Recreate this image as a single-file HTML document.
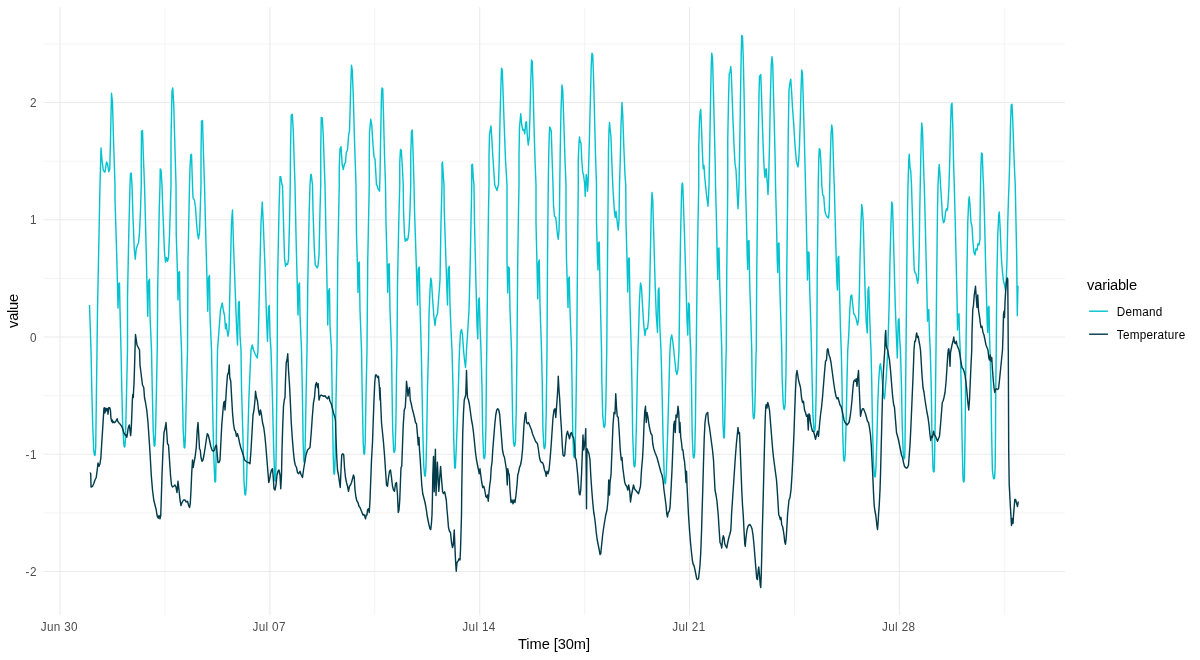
<!DOCTYPE html><html><head><meta charset="utf-8"><title>chart</title><style>html,body{margin:0;padding:0;background:#fff}svg{display:block;will-change:transform}text{font-family:"Liberation Sans",sans-serif}</style></head><body>
<svg width="1200" height="660" viewBox="0 0 1200 660">
<rect width="1200" height="660" fill="#fff"/>
<g stroke="#EBEBEB" fill="none">
<line x1="43.6" x2="1065.0" y1="43.95" y2="43.95" stroke-width="0.53"/>
<line x1="43.6" x2="1065.0" y1="161.2" y2="161.2" stroke-width="0.53"/>
<line x1="43.6" x2="1065.0" y1="278.45" y2="278.45" stroke-width="0.53"/>
<line x1="43.6" x2="1065.0" y1="395.7" y2="395.7" stroke-width="0.53"/>
<line x1="43.6" x2="1065.0" y1="512.95" y2="512.95" stroke-width="0.53"/>
<line x1="164.93" x2="164.93" y1="7.3" y2="615.0" stroke-width="0.53"/>
<line x1="374.78" x2="374.78" y1="7.3" y2="615.0" stroke-width="0.53"/>
<line x1="584.63" x2="584.63" y1="7.3" y2="615.0" stroke-width="0.53"/>
<line x1="794.48" x2="794.48" y1="7.3" y2="615.0" stroke-width="0.53"/>
<line x1="1004.33" x2="1004.33" y1="7.3" y2="615.0" stroke-width="0.53"/>
<line x1="43.6" x2="1065.0" y1="102.55" y2="102.55" stroke-width="1.07"/>
<line x1="43.6" x2="1065.0" y1="219.8" y2="219.8" stroke-width="1.07"/>
<line x1="43.6" x2="1065.0" y1="337.05" y2="337.05" stroke-width="1.07"/>
<line x1="43.6" x2="1065.0" y1="454.3" y2="454.3" stroke-width="1.07"/>
<line x1="43.6" x2="1065.0" y1="571.55" y2="571.55" stroke-width="1.07"/>
<line x1="60.0" x2="60.0" y1="7.3" y2="615.0" stroke-width="1.07"/>
<line x1="269.85" x2="269.85" y1="7.3" y2="615.0" stroke-width="1.07"/>
<line x1="479.7" x2="479.7" y1="7.3" y2="615.0" stroke-width="1.07"/>
<line x1="689.55" x2="689.55" y1="7.3" y2="615.0" stroke-width="1.07"/>
<line x1="899.4" x2="899.4" y1="7.3" y2="615.0" stroke-width="1.07"/>
</g>
<polyline points="89.50,305.00 91.00,350.00 91.00,350.00 91.75,387.50 92.70,425.00 93.70,450.00 94.37,454.60 94.75,455.50 95.13,454.60 95.70,447.50 96.17,412.50 97.00,350.00 97.00,350.00 97.50,310.00 98.75,247.50 100.00,185.00 100.00,185.00 101.00,148.00 102.00,160.00 103.25,170.00 104.25,171.75 105.00,172.00 106.50,162.00 107.50,163.75 108.75,171.75 109.75,169.25 110.50,140.00 111.50,93.25 112.50,102.50 113.50,140.00 115.00,185.00 115.00,185.00 115.00,200.00 116.50,247.50 117.50,285.00 118.00,308.00 118.75,283.75 119.50,283.00 120.00,310.00 121.00,350.00 121.00,350.00 121.74,387.50 122.70,425.00 123.83,443.75 124.12,446.10 124.50,447.00 124.88,446.10 125.45,440.00 126.38,400.00 127.50,350.00 127.50,350.00 127.50,297.50 128.75,235.00 130.00,185.00 130.00,185.00 130.50,173.25 131.25,173.25 132.00,185.00 132.00,185.00 133.00,217.50 134.25,248.75 135.25,259.25 136.25,248.75 137.50,245.00 138.50,243.00 139.50,232.50 140.50,210.00 141.25,185.00 141.25,185.00 141.25,160.00 141.50,131.25 142.50,130.50 143.50,160.00 144.50,185.00 144.50,185.00 145.50,222.50 147.00,285.00 147.75,316.25 148.50,281.25 149.50,279.25 150.00,315.00 151.50,350.00 151.50,350.00 152.23,387.50 153.20,430.00 154.12,445.35 154.50,446.25 154.88,445.35 155.45,435.00 156.34,395.00 157.25,350.00 157.25,350.00 157.75,285.00 159.25,210.00 160.00,185.00 160.00,185.00 160.25,169.00 161.00,170.00 162.00,185.00 162.00,185.00 163.00,215.00 164.50,252.50 165.50,262.00 166.50,257.50 167.50,261.25 168.50,257.50 169.50,235.00 171.00,185.00 171.00,185.00 171.00,140.00 172.00,91.25 172.75,88.00 173.75,105.00 175.00,150.00 176.00,185.00 176.00,185.00 176.25,235.00 177.50,273.75 178.00,300.00 178.75,272.50 179.50,271.75 180.00,310.00 181.50,350.00 181.50,350.00 182.25,387.50 183.20,430.00 184.12,447.10 184.50,448.00 184.88,447.10 185.45,435.00 186.32,395.00 187.50,350.00 187.50,350.00 188.00,260.00 189.50,185.00 189.50,185.00 190.00,167.50 190.75,155.00 191.50,154.25 192.50,185.00 192.50,185.00 193.00,197.50 194.50,200.50 195.50,207.50 196.50,222.50 197.50,233.75 198.50,238.75 199.50,232.50 200.25,210.00 201.00,185.00 201.00,185.00 201.00,155.00 201.50,121.25 202.50,120.50 203.50,155.00 204.50,185.00 204.50,185.00 205.75,235.00 207.00,280.00 207.75,311.25 208.50,277.50 209.50,275.50 210.00,315.00 211.50,350.00 211.50,350.00 212.50,400.00 213.70,455.00 214.87,481.10 215.25,482.00 215.63,481.10 216.20,450.00 216.75,400.00 217.50,350.00 217.50,350.00 219.00,330.00 220.50,310.00 222.25,303.00 223.50,311.25 224.50,315.00 225.50,328.75 226.25,323.75 227.00,330.00 228.00,336.25 229.00,330.00 230.00,285.00 231.50,222.50 232.50,210.00 233.50,245.00 235.00,285.00 236.50,325.00 237.50,345.00 238.50,302.50 239.25,301.50 240.00,335.00 241.00,350.00 241.00,350.00 241.50,387.50 242.96,437.50 243.95,480.00 244.87,494.10 245.25,495.00 245.63,494.10 246.45,485.00 247.60,445.00 249.00,395.00 251.00,350.00 251.00,350.00 252.25,345.00 253.50,350.00 253.50,350.00 255.00,353.75 256.25,356.25 257.25,358.00 258.00,350.00 258.00,350.00 259.50,285.00 261.00,222.50 262.25,202.00 263.25,222.50 265.00,267.50 266.50,317.50 267.50,341.25 268.50,307.50 269.25,305.50 270.00,335.00 271.00,350.00 271.00,350.00 272.50,400.00 273.70,450.00 274.87,480.35 275.25,481.25 275.63,480.35 276.20,450.00 276.75,400.00 277.25,350.00 277.25,350.00 277.50,285.00 279.00,210.00 279.75,185.00 279.75,185.00 280.00,176.75 280.75,176.75 282.00,185.00 282.50,185.00 283.50,222.50 284.50,257.50 285.50,266.25 286.50,263.75 287.50,264.50 288.50,260.00 289.50,222.50 290.25,185.00 290.25,185.00 290.50,150.00 291.25,115.00 292.25,114.25 293.25,130.00 294.25,162.50 295.00,185.00 295.00,185.00 296.00,235.00 297.25,285.00 298.00,315.00 298.75,285.00 299.50,283.00 300.00,315.00 301.50,350.00 301.50,350.00 302.50,400.00 303.20,445.00 303.87,461.60 304.25,462.50 304.63,461.60 305.20,445.00 306.00,400.00 307.00,350.00 307.00,350.00 307.75,285.00 309.25,210.00 310.00,185.00 310.00,185.00 310.75,175.00 311.25,174.25 312.50,185.00 312.50,185.00 313.00,210.00 314.25,247.50 315.25,265.00 316.25,266.25 317.00,268.00 318.00,266.25 319.00,255.00 320.00,210.00 320.75,185.00 320.75,185.00 320.75,150.00 321.25,117.50 322.25,118.00 323.25,135.00 324.25,165.00 325.00,185.00 325.00,185.00 326.00,235.00 327.25,295.00 327.75,325.00 328.50,291.25 329.50,288.75 330.00,325.00 331.50,350.00 331.50,350.00 332.25,400.00 333.20,455.00 333.87,473.35 334.25,474.25 334.63,473.35 335.20,455.00 336.00,400.00 337.00,350.00 337.00,350.00 337.75,260.00 339.25,185.00 339.25,185.00 339.25,167.50 340.00,148.75 341.00,146.75 342.25,165.00 343.25,169.50 344.50,163.75 345.50,162.50 346.25,152.50 347.50,150.00 348.75,133.75 349.50,131.25 350.25,105.00 350.75,85.00 351.50,65.25 352.25,70.00 353.25,95.00 354.50,140.00 356.00,185.00 356.00,185.00 356.50,235.00 357.50,267.50 358.00,292.50 358.75,263.00 359.25,262.00 360.00,310.00 361.50,350.00 361.50,350.00 362.24,395.00 363.20,442.50 363.87,453.35 364.25,454.25 364.63,453.35 365.20,442.50 366.01,395.00 367.00,350.00 367.00,350.00 367.75,260.00 369.25,185.00 369.25,185.00 369.25,160.00 369.50,132.50 370.75,119.25 371.75,125.00 373.00,145.00 374.00,157.00 375.00,158.75 376.50,185.00 377.00,185.00 378.00,188.75 379.50,191.25 380.00,175.00 380.75,132.50 381.50,95.00 382.00,88.00 382.75,88.75 383.50,115.00 384.50,155.00 385.50,185.00 385.50,185.00 386.00,222.50 387.00,260.00 387.75,292.50 388.50,264.50 389.25,263.75 390.00,310.00 391.50,350.00 391.50,350.00 392.00,387.50 392.70,430.00 393.64,450.00 393.87,451.60 394.25,452.50 394.63,451.60 395.14,448.75 395.95,420.00 396.50,375.00 397.00,350.00 397.00,350.00 397.50,285.00 398.75,222.50 399.75,185.00 399.75,185.00 399.75,162.50 400.50,149.50 401.25,150.00 402.25,165.00 403.25,185.00 403.25,185.00 403.50,210.00 404.50,235.00 405.25,241.25 406.25,238.75 407.00,240.50 408.00,238.75 409.00,230.00 410.00,210.00 410.75,185.00 410.75,185.00 410.75,155.00 411.50,131.25 412.25,130.00 413.00,150.00 414.00,185.00 414.00,185.00 414.50,210.00 415.75,247.50 416.75,280.00 417.50,305.00 418.25,268.75 419.25,267.00 420.00,305.00 421.25,350.00 421.25,350.00 422.00,387.50 422.79,430.00 423.70,465.00 424.62,475.35 425.00,476.25 425.38,475.35 425.95,467.50 426.70,437.50 427.50,387.50 428.50,350.00 428.50,350.00 429.00,315.00 430.00,290.00 430.75,278.25 431.50,281.25 432.50,297.50 433.75,315.00 435.00,325.50 436.00,317.50 437.50,313.75 438.75,297.50 440.00,280.00 441.00,222.50 442.00,185.00 442.00,185.00 442.00,163.75 442.50,162.00 443.25,175.00 444.00,185.00 444.00,185.00 444.25,210.00 445.50,247.50 446.75,285.00 447.50,305.00 448.25,268.75 449.25,266.25 450.00,305.00 451.25,335.00 452.00,350.00 452.00,350.00 453.00,387.50 453.70,437.50 454.62,467.35 455.00,468.25 455.38,467.35 456.20,450.00 457.17,425.00 458.00,400.00 459.00,365.00 459.50,350.00 459.50,350.00 460.50,332.50 461.50,329.50 462.50,335.00 463.50,350.00 463.50,350.00 464.25,357.50 465.00,363.75 465.50,367.50 466.00,360.00 466.50,350.00 466.50,350.00 467.50,335.00 469.00,310.00 470.00,272.50 471.00,222.50 471.75,185.00 471.75,185.00 471.75,165.00 472.50,164.25 473.25,177.50 474.00,185.00 474.00,185.00 474.50,222.50 476.00,285.00 477.00,325.00 477.75,338.75 478.50,300.00 479.25,298.00 480.00,325.00 481.00,350.00 481.00,350.00 482.00,387.50 482.70,432.50 483.54,455.00 483.87,457.85 484.25,458.75 484.63,457.85 485.20,453.75 485.95,425.00 486.50,365.00 486.75,350.00 486.75,350.00 487.50,285.00 488.50,210.00 489.00,185.00 489.00,185.00 489.00,155.00 489.50,135.00 490.25,130.00 491.00,126.00 491.75,137.50 492.75,155.00 493.75,170.00 494.75,185.00 494.75,185.00 495.75,187.50 497.00,190.50 498.00,186.25 498.50,185.00 498.50,185.00 499.25,160.00 500.00,120.00 501.00,82.50 501.50,68.25 502.25,70.00 503.00,90.00 504.00,120.00 505.50,160.00 507.00,185.00 507.00,185.00 507.00,210.00 507.00,260.00 507.75,293.00 508.50,267.00 509.25,268.00 510.00,310.00 511.50,350.00 511.50,350.00 512.00,382.50 512.70,422.50 513.54,442.50 514.12,445.35 514.50,446.25 514.88,445.35 515.45,441.25 516.20,412.50 516.75,370.00 517.00,350.00 517.00,350.00 517.75,260.00 518.50,210.00 519.00,185.00 519.00,185.00 519.00,155.00 519.50,127.50 520.75,113.75 521.75,125.00 522.75,130.00 523.75,129.50 524.75,133.75 525.75,122.50 526.50,121.75 527.25,135.00 528.25,145.00 529.25,137.50 530.00,115.00 530.75,82.50 531.50,60.00 532.25,61.25 533.00,85.00 534.00,125.00 535.00,160.00 536.00,185.00 536.00,185.00 536.00,222.50 537.00,265.00 537.75,298.75 538.50,262.50 539.25,260.00 540.00,305.00 541.50,350.00 541.50,350.00 542.25,382.50 542.95,430.00 543.89,446.25 544.12,447.85 544.50,448.75 544.88,447.85 545.45,443.75 546.20,412.50 546.75,370.00 547.00,350.00 547.00,350.00 547.50,260.00 548.25,185.00 548.25,185.00 548.75,155.00 549.25,135.00 549.75,127.00 550.50,128.75 551.25,131.25 552.00,155.00 553.00,185.00 553.00,185.00 553.50,205.00 554.50,216.25 555.75,217.50 556.75,227.50 557.50,235.00 558.25,239.25 559.00,231.25 559.50,210.00 559.75,185.00 559.75,185.00 560.25,150.00 561.00,110.00 562.00,85.00 562.75,90.00 563.75,120.00 565.00,160.00 566.00,185.00 566.00,185.00 566.00,222.50 566.50,260.00 567.50,290.00 568.00,307.50 568.50,278.75 569.25,277.00 570.00,310.00 571.50,350.00 571.50,350.00 572.00,382.50 572.70,430.00 573.54,453.75 573.87,456.60 574.25,457.50 574.63,456.60 575.20,450.00 575.90,412.50 576.50,370.00 576.75,350.00 576.75,350.00 577.50,260.00 578.25,185.00 578.25,185.00 578.25,160.00 579.00,142.50 579.50,137.00 580.25,142.00 581.00,143.00 581.75,160.00 582.75,172.50 583.50,175.00 584.50,182.50 584.75,185.00 584.75,185.00 585.25,196.25 585.75,185.00 585.75,185.00 586.25,174.50 587.00,180.00 587.25,185.00 587.25,185.00 587.50,191.25 588.00,185.00 588.00,185.00 588.50,170.00 589.25,145.00 590.25,105.00 591.25,65.00 592.00,53.25 592.75,55.00 593.50,75.00 594.50,115.00 595.50,155.00 596.50,185.00 596.50,185.00 596.50,222.50 597.50,260.00 598.00,270.00 598.50,243.00 599.25,242.00 600.00,285.00 601.50,350.00 601.50,350.00 601.81,380.00 602.70,415.00 603.73,426.25 603.87,426.60 604.25,427.50 604.63,426.60 605.14,423.75 605.95,400.00 606.50,365.00 606.75,350.00 606.75,350.00 607.50,260.00 608.25,185.00 608.25,185.00 608.50,150.00 609.00,130.00 609.50,122.50 610.25,130.00 611.00,137.50 611.75,160.00 612.75,185.00 612.75,185.00 613.50,197.50 614.50,212.50 615.25,217.50 616.00,211.25 616.75,217.50 617.50,225.00 618.25,230.00 619.00,220.00 619.50,185.00 619.50,185.00 620.25,160.00 621.00,125.00 622.00,102.50 622.75,115.00 623.75,145.00 625.00,175.00 625.75,185.00 625.75,185.00 626.00,222.50 627.00,260.00 627.75,292.00 628.50,258.75 629.25,258.00 630.00,305.00 631.25,350.00 631.25,350.00 632.00,387.50 632.70,435.00 633.74,462.50 634.12,466.10 634.50,467.00 634.88,466.10 635.45,460.00 636.43,425.00 637.25,380.00 638.00,350.00 638.00,350.00 638.75,325.00 639.50,300.00 640.50,283.00 641.50,287.50 642.50,305.00 643.75,325.00 645.00,335.50 646.00,328.75 647.50,328.75 648.50,320.00 649.50,295.00 650.50,247.50 651.25,210.00 652.00,192.50 652.75,200.00 653.75,235.00 655.00,280.00 656.25,315.00 657.50,332.50 658.25,290.00 659.00,288.00 659.75,325.00 661.00,350.00 661.00,350.00 662.00,387.50 663.04,437.50 664.20,475.00 664.87,482.85 665.25,483.75 665.63,482.85 666.45,470.00 667.61,435.00 668.75,395.00 669.50,365.00 670.00,350.00 670.00,350.00 670.75,338.75 671.75,335.00 672.75,341.25 673.75,350.00 673.75,350.00 674.75,360.00 676.00,371.25 677.00,374.50 678.00,368.75 679.00,350.00 679.00,350.00 679.50,310.00 680.00,271.25 680.00,270.00 680.75,227.50 681.50,195.00 682.00,185.00 682.00,185.00 682.25,183.00 682.75,185.00 682.75,185.00 683.50,205.00 684.50,235.00 686.00,285.00 687.00,320.00 687.75,335.00 688.50,303.00 689.25,304.50 690.00,335.00 690.75,350.00 690.75,350.00 691.50,387.50 692.20,435.00 693.10,455.00 693.37,457.10 693.75,458.00 694.13,457.10 694.70,452.50 695.45,420.00 696.00,365.00 696.25,350.00 696.25,350.00 697.00,285.00 698.00,222.50 698.75,185.00 698.75,185.00 698.75,145.00 699.50,120.00 700.25,111.25 700.75,109.50 701.50,127.50 702.50,155.00 703.25,168.75 704.00,165.50 704.75,177.50 705.50,185.00 705.50,185.00 706.25,192.50 707.00,198.75 708.00,206.25 708.50,197.50 709.00,185.00 709.00,185.00 709.75,145.00 710.50,102.50 711.25,65.00 711.75,53.25 712.50,57.50 713.25,85.00 714.25,125.00 715.25,165.00 715.50,185.00 715.50,185.00 716.50,222.50 717.25,260.00 717.75,279.50 718.25,248.75 719.00,248.00 719.75,285.00 721.00,325.00 721.75,350.00 721.75,350.00 722.36,387.50 722.95,422.50 723.62,437.10 724.00,438.00 724.38,437.10 724.70,425.00 725.37,390.00 726.00,357.50 726.25,350.00 726.25,350.00 726.75,272.50 727.50,210.00 727.75,185.00 727.75,185.00 727.75,140.00 728.50,100.00 729.25,73.75 730.00,72.50 730.75,66.50 731.25,72.50 732.00,92.50 733.00,120.00 734.00,145.00 735.00,163.75 736.00,170.00 736.75,185.00 736.75,185.00 737.50,200.00 738.00,208.75 738.50,200.00 739.00,185.00 739.00,185.00 739.75,145.00 740.50,95.00 741.25,52.50 741.75,35.50 742.50,36.25 743.25,57.50 744.25,102.50 745.00,155.00 745.50,185.00 745.50,185.00 746.50,222.50 747.25,257.50 747.75,269.50 748.25,241.25 749.00,240.50 749.75,285.00 751.00,325.00 751.75,350.00 751.75,350.00 752.20,387.50 752.95,412.50 753.37,417.85 753.75,418.75 754.13,417.85 754.70,412.50 755.45,385.00 756.00,355.00 756.25,350.00 756.25,350.00 756.75,272.50 757.50,210.00 757.75,185.00 757.75,185.00 758.25,140.00 759.00,95.00 759.50,76.25 760.25,75.50 760.75,74.50 761.50,95.00 762.50,127.50 763.50,155.00 764.25,170.00 765.00,177.50 765.75,169.50 766.25,168.75 767.00,180.00 767.50,185.00 767.50,185.00 768.00,194.50 768.50,185.00 768.50,185.00 769.50,145.00 770.25,102.50 771.25,65.00 772.00,56.75 772.75,65.00 773.50,95.00 774.50,132.50 775.25,165.00 775.50,185.00 775.50,185.00 776.50,222.50 777.25,260.00 777.75,272.50 778.25,243.75 779.00,243.00 779.75,285.00 781.00,325.00 781.74,350.00 781.74,350.00 782.20,380.00 783.20,403.75 783.87,408.60 784.25,409.50 784.63,408.60 785.20,403.75 785.95,375.00 786.25,350.00 786.25,350.00 786.75,272.50 787.50,210.00 787.75,185.00 787.75,185.00 788.25,132.50 789.00,90.00 790.00,82.50 790.75,79.25 791.50,90.00 792.50,107.50 793.75,125.00 795.00,145.00 796.25,160.00 797.25,165.00 798.00,167.00 798.75,160.00 799.50,145.00 800.25,120.00 801.00,90.00 801.75,70.00 802.50,73.75 803.25,100.00 804.25,135.00 805.00,165.00 805.50,185.00 805.50,185.00 806.25,217.50 807.00,255.00 807.50,280.00 808.25,252.00 809.00,252.50 809.75,290.00 811.00,330.00 811.50,350.00 811.50,350.00 812.12,380.00 812.95,415.00 813.89,428.75 814.12,430.35 814.50,431.25 814.88,430.35 815.45,425.00 816.19,390.00 816.75,350.00 816.75,350.00 817.25,272.50 818.00,210.00 818.25,185.00 818.25,185.00 818.75,160.00 819.25,148.75 820.00,149.50 820.75,160.00 821.50,175.00 821.75,185.00 821.75,185.00 822.75,195.00 823.75,196.25 824.75,210.00 825.75,214.50 826.75,216.25 827.75,217.50 828.50,218.00 829.25,210.00 829.75,185.00 829.75,185.00 830.25,160.00 831.00,135.00 831.75,125.00 832.50,130.00 833.25,155.00 834.00,180.00 834.25,185.00 834.25,185.00 835.25,222.50 836.25,260.00 837.00,283.75 837.50,290.00 838.00,257.50 838.75,256.25 839.50,290.00 840.50,330.00 841.25,350.00 841.25,350.00 842.00,382.50 842.70,432.50 843.54,457.50 843.87,460.35 844.25,461.25 844.63,460.35 845.20,455.00 846.19,420.00 847.00,380.00 847.75,350.00 847.75,350.00 848.75,335.00 849.75,310.00 850.75,296.25 851.75,295.00 852.75,305.00 853.75,313.75 854.75,315.00 855.75,317.50 856.75,321.25 857.50,325.00 858.50,320.00 859.25,297.50 860.00,260.00 861.00,222.50 861.75,204.50 862.50,210.00 863.25,222.50 864.25,260.00 865.25,297.50 866.25,322.50 867.25,333.00 868.00,290.00 868.75,287.00 869.50,310.00 870.50,340.00 871.00,350.00 871.00,350.00 871.75,382.50 872.55,430.00 873.45,462.50 874.42,475.00 874.62,476.10 875.00,477.00 875.38,476.10 875.95,467.50 876.95,437.50 877.75,405.00 878.75,380.00 879.75,366.25 880.50,363.75 881.25,370.00 882.25,380.00 883.25,392.50 884.00,397.50 884.50,398.75 885.25,390.00 886.25,377.50 887.25,360.00 887.75,350.00 887.75,350.00 889.00,310.00 890.00,260.00 891.00,222.50 891.75,202.00 892.50,205.00 893.25,230.00 894.25,267.50 895.25,305.00 896.25,332.50 896.75,345.00 897.00,350.00 897.00,350.00 897.25,358.00 897.50,350.00 897.50,350.00 898.25,320.00 899.00,318.75 899.75,340.00 900.50,350.00 900.50,350.00 901.50,387.50 902.20,425.00 903.20,452.50 903.87,457.85 904.25,458.75 904.63,457.85 904.95,450.00 905.51,400.00 906.00,350.00 906.00,350.00 906.75,272.50 907.50,210.00 908.00,185.00 908.00,185.00 908.75,160.00 909.25,154.25 910.00,167.50 910.75,171.25 911.50,185.00 911.50,185.00 912.25,210.00 913.25,242.50 914.25,270.00 915.00,272.50 916.00,273.75 917.00,280.00 917.75,283.25 918.50,277.50 919.25,247.50 919.75,210.00 920.25,185.00 920.25,185.00 920.75,160.00 921.25,135.00 921.75,123.00 922.50,130.00 923.25,155.00 924.00,180.00 924.25,185.00 924.25,185.00 925.25,222.50 926.25,265.00 927.00,297.50 927.50,321.25 928.00,311.25 928.75,309.50 929.50,335.00 930.25,350.00 930.25,350.00 931.25,387.50 931.95,435.00 932.99,467.50 933.37,471.10 933.75,472.00 934.13,471.10 934.42,467.50 935.13,425.00 935.75,370.00 936.00,350.00 936.00,350.00 936.75,272.50 937.50,210.00 938.00,185.00 938.00,185.00 938.75,170.00 939.25,164.50 940.00,175.00 940.50,185.00 940.50,185.00 941.50,200.00 942.50,217.50 943.50,222.50 944.50,221.25 945.50,212.50 946.50,208.75 947.50,210.00 948.25,200.00 949.00,185.00 949.00,185.00 949.75,160.00 950.50,127.50 951.25,105.00 952.00,103.25 952.75,125.00 953.50,160.00 954.25,185.00 954.25,185.00 955.25,222.50 956.25,265.00 957.00,297.50 957.50,330.00 958.25,315.00 959.00,313.75 959.50,335.00 960.25,350.00 960.25,350.00 961.25,387.50 962.02,437.50 962.99,477.50 963.37,481.10 963.75,482.00 964.13,481.10 964.42,477.50 965.11,432.50 965.75,370.00 966.00,350.00 966.00,350.00 966.75,285.00 967.75,222.50 968.75,200.00 969.25,196.75 970.00,205.00 971.00,222.50 972.00,226.25 973.00,242.50 974.00,252.50 975.00,255.00 976.00,248.75 977.00,250.00 978.00,243.75 979.00,245.00 980.00,238.75 980.00,222.50 980.50,185.00 980.50,185.00 981.00,165.00 981.50,153.00 982.25,153.75 983.00,175.00 983.50,185.00 983.50,185.00 984.50,217.50 985.50,260.00 986.50,297.50 987.25,325.00 987.75,332.50 988.25,307.50 989.00,306.25 989.50,335.00 990.00,350.00 990.00,350.00 991.00,387.50 991.59,432.50 992.40,470.00 993.37,477.85 993.75,478.75 994.13,477.85 994.13,477.85 994.25,478.75 994.63,477.85 995.15,467.50 995.53,432.50 995.75,387.50 996.25,350.00 996.25,350.00 996.75,285.00 997.75,235.00 998.75,215.00 999.25,212.00 1000.00,225.00 1000.75,242.50 1001.50,260.00 1002.50,272.50 1003.50,281.25 1004.50,285.00 1005.50,290.00 1006.25,280.00 1007.00,260.00 1007.75,222.50 1008.50,197.50 1009.00,185.00 1009.00,185.00 1009.75,160.00 1010.50,125.00 1011.25,105.00 1012.00,104.25 1012.75,120.00 1013.75,150.00 1014.75,175.00 1015.25,185.00 1015.25,185.00 1016.00,222.50 1016.75,260.00 1017.00,290.00 1017.30,315.75 1017.75,295.00 1018.00,285.75" fill="none" stroke="#04C3CF" stroke-width="1.42" stroke-linejoin="round" stroke-linecap="butt"/>
<polyline points="90.00,472.50 90.75,473.75 91.00,487.00 92.50,486.25 93.75,483.75 95.00,480.00 96.25,477.50 97.50,467.50 98.00,463.00 99.00,466.25 100.00,463.75 100.83,458.00 103.95,408.10 104.40,407.77 104.97,412.93 105.62,408.10 106.42,410.90 106.97,408.45 107.55,408.90 108.00,414.27 108.67,407.77 109.78,407.77 110.45,410.35 110.90,417.62 111.70,421.55 112.25,419.88 112.80,422.68 113.47,421.55 114.28,422.68 115.40,421.90 116.28,420.43 117.17,418.75 117.85,421.55 118.75,422.68 119.88,423.80 121.00,425.48 122.12,427.15 123.03,429.98 123.80,432.77 124.58,433.90 125.47,435.57 126.38,435.00 126.83,437.25 127.50,433.32 128.05,428.85 128.62,426.60 129.30,424.93 129.75,428.27 130.20,432.20 130.62,435.57 131.07,431.07 131.53,422.12 131.97,410.90 132.43,398.57 132.88,394.10 133.32,397.45 133.55,390.73 134.00,384.00 134.60,365.00 135.00,350.00 135.00,350.00 135.50,334.50 137.00,345.00 138.25,347.50 139.50,350.00 139.50,350.00 140.00,365.00 141.25,375.00 142.50,385.00 143.75,387.50 144.50,397.50 145.50,402.50 146.75,410.00 148.00,422.50 149.00,437.50 150.00,452.50 151.25,475.00 152.50,490.00 153.75,500.00 155.00,505.00 156.25,510.00 157.00,515.00 157.00,515.00 157.50,517.00 158.25,518.25 159.00,515.50 160.00,518.75 160.75,515.50 160.75,515.00 161.25,500.00 162.00,475.00 163.00,450.00 164.00,432.50 165.00,428.75 166.00,422.50 166.75,432.50 167.50,443.75 168.50,445.00 169.50,460.00 170.50,475.00 171.50,485.00 172.50,487.00 173.75,486.25 175.00,485.00 176.00,487.00 177.00,492.50 178.00,481.25 179.00,490.00 180.00,500.00 181.00,505.50 182.00,502.50 183.50,500.00 185.00,500.00 186.25,502.00 187.50,501.25 188.50,505.00 189.50,507.50 190.25,503.75 191.00,490.00 191.75,472.50 192.50,460.00 193.25,467.50 194.00,462.50 195.00,457.50 196.25,447.50 197.25,430.00 198.00,422.50 198.75,435.00 199.50,448.75 200.25,450.00 201.00,457.50 202.00,461.25 203.00,460.00 204.00,455.00 205.00,448.75 206.25,440.00 207.25,433.75 208.25,435.00 209.50,440.00 210.75,446.25 212.00,450.00 213.25,451.25 214.50,450.00 215.50,446.25 216.50,445.00 217.25,455.00 218.00,462.50 219.00,462.50 220.00,460.00 220.75,445.00 221.75,425.00 223.00,410.00 223.75,402.50 224.50,401.25 225.00,410.00 225.75,400.00 226.50,387.50 227.50,375.00 228.50,372.50 229.25,365.00 229.75,377.50 230.75,381.25 231.50,395.00 232.50,412.50 233.50,423.75 234.50,430.00 235.50,431.25 236.50,436.25 237.50,433.75 238.50,437.50 239.50,442.50 240.75,447.50 242.00,451.25 243.25,455.00 244.50,460.00 246.00,461.25 247.50,462.50 248.75,462.50 250.00,463.75 251.00,450.00 252.00,432.50 253.00,415.00 254.00,410.00 255.00,400.00 255.50,391.25 256.50,397.50 257.50,401.25 258.50,410.00 259.50,415.00 260.50,410.00 261.50,415.00 262.50,422.50 263.75,427.50 264.75,435.00 265.75,445.00 266.75,457.50 267.75,470.00 268.75,482.50 269.50,480.00 270.50,473.75 271.50,470.00 272.50,468.75 273.25,477.50 274.00,488.75 275.00,490.00 276.00,485.00 277.00,475.00 278.00,471.25 279.00,470.00 280.00,475.00 280.75,488.75 281.50,475.00 282.00,450.00 282.75,425.00 283.50,406.25 284.25,400.00 285.00,397.50 285.50,380.00 286.25,362.50 287.00,360.00 287.75,353.75 288.50,370.00 289.50,385.00 290.25,400.00 291.25,422.50 292.25,437.50 293.25,450.00 294.25,460.00 295.25,465.00 296.50,467.50 297.50,472.50 298.75,473.75 300.00,471.25 301.25,475.00 302.50,477.50 303.50,470.00 304.75,462.50 306.00,455.00 307.50,450.00 308.75,448.75 310.00,447.50 311.25,432.50 312.25,417.50 313.50,402.50 314.50,397.50 315.50,385.00 316.50,382.50 317.50,387.50 318.25,383.75 319.00,400.00 320.00,396.25 321.25,395.00 322.50,395.75 323.75,396.25 325.00,395.75 326.25,397.50 327.50,398.75 328.75,396.25 330.00,401.25 331.25,403.75 332.50,408.75 333.75,413.75 335.00,417.50 335.50,421.25 336.00,437.50 336.75,457.50 337.50,470.00 338.50,475.00 339.50,482.50 340.25,487.50 341.00,470.00 341.75,455.00 342.75,453.75 343.75,455.00 344.50,467.50 345.50,477.50 346.50,482.50 347.50,486.25 348.50,491.25 349.50,486.25 350.50,485.00 351.50,482.50 352.50,478.75 353.50,475.00 354.25,477.50 355.00,490.00 356.00,497.50 357.00,501.25 358.00,502.50 359.00,506.25 360.00,507.50 361.00,510.00 362.00,512.50 363.00,515.00 363.00,515.00 364.00,514.50 364.75,516.25 365.50,518.75 366.25,515.00 367.00,515.00 367.00,515.00 367.50,510.00 368.50,508.75 369.25,512.50 370.00,500.00 370.75,480.00 371.50,460.00 372.50,442.50 373.25,420.00 374.00,400.00 374.75,382.50 375.50,375.00 376.50,375.00 377.50,377.50 378.50,376.25 379.25,385.00 380.00,400.00 380.00,387.50 380.75,405.00 381.50,422.50 382.50,432.50 383.50,442.50 384.50,455.00 385.50,470.00 386.50,485.00 387.50,486.25 388.50,477.50 389.50,471.25 390.50,470.00 391.50,477.50 392.50,486.25 393.50,490.00 394.50,491.25 395.50,483.75 396.50,482.50 397.50,495.00 398.25,512.50 399.00,510.00 399.75,500.00 400.50,480.00 401.00,467.50 401.75,466.25 402.50,445.00 403.25,425.00 404.25,410.00 405.25,407.50 406.00,395.00 406.50,381.25 407.25,387.50 408.00,396.25 408.75,390.00 409.50,387.50 410.25,400.00 411.25,403.75 412.25,408.75 413.25,412.50 414.50,417.50 415.50,422.50 416.50,423.75 417.50,435.00 418.25,445.00 419.00,437.50 419.50,450.00 420.25,460.00 421.00,472.50 421.75,485.00 422.75,493.75 423.75,497.50 424.75,501.25 425.75,506.25 426.75,512.50 427.00,515.00 427.00,515.00 428.00,520.00 429.00,525.00 430.00,528.75 430.75,529.50 431.50,522.50 432.00,515.00 432.00,515.00 432.40,500.00 432.80,475.00 433.50,456.50 434.20,491.80 434.80,470.00 435.40,449.10 436.00,495.50 436.70,478.00 437.40,462.30 438.10,478.00 438.80,491.40 439.70,478.00 440.60,466.40 441.60,480.00 442.60,491.80 443.50,493.60 444.70,491.80 445.50,496.00 446.30,500.00 447.00,510.00 447.50,515.00 447.50,515.00 448.50,527.50 449.50,531.25 450.50,532.50 451.50,542.50 452.50,547.50 453.25,545.00 454.25,530.00 454.75,542.50 455.50,560.00 456.25,571.25 457.00,562.50 458.00,561.25 459.00,558.75 460.00,560.00 460.50,550.00 461.00,532.50 461.50,515.00 461.50,515.00 461.75,490.00 462.25,460.00 462.75,432.50 463.50,412.50 464.25,400.00 465.00,397.50 465.75,395.00 466.25,380.00 466.50,370.50 467.00,387.50 467.50,397.50 468.50,400.00 469.50,405.00 470.50,412.50 471.50,420.00 472.50,425.00 473.50,432.50 474.50,442.50 475.50,452.50 476.50,460.00 477.50,465.00 478.50,470.00 479.25,473.75 480.00,468.75 480.75,475.00 481.75,482.50 482.75,487.50 483.75,486.25 484.75,490.00 485.75,496.25 486.75,497.50 487.50,495.00 488.25,501.25 489.00,492.50 489.75,485.00 490.50,480.00 491.25,467.50 492.00,462.50 492.75,450.00 493.75,437.50 494.75,425.00 495.75,415.00 496.75,410.00 497.75,408.75 498.75,410.00 499.75,415.00 500.50,425.00 501.50,437.50 502.50,450.00 503.50,455.00 504.50,457.50 505.50,463.75 506.50,470.00 507.25,485.00 507.75,468.75 508.50,472.50 509.25,475.00 510.00,490.00 511.00,502.50 512.00,500.00 513.00,503.75 514.00,500.00 515.00,502.50 516.00,495.00 517.00,485.00 517.75,475.00 518.50,472.50 519.50,467.50 520.50,465.00 521.50,460.00 522.50,450.00 523.25,437.50 524.00,425.00 525.00,415.00 525.75,412.50 526.50,422.50 527.50,423.75 528.50,422.50 529.50,425.00 530.50,427.50 531.50,430.00 532.50,433.75 533.50,436.25 534.50,438.75 535.50,441.25 536.50,442.50 537.50,443.75 538.50,450.00 539.50,457.50 540.50,461.25 541.50,462.50 542.50,462.50 543.50,465.00 544.50,470.00 545.50,472.50 546.25,476.25 547.00,471.25 548.00,473.75 549.00,470.00 550.00,460.00 551.00,447.50 552.00,432.50 553.00,417.50 554.00,410.00 555.00,408.75 555.75,417.50 556.50,407.50 557.25,397.50 558.00,385.00 558.25,376.25 559.00,390.00 559.75,400.00 560.50,415.00 561.50,430.00 562.25,445.00 563.00,455.00 564.00,456.25 564.75,455.00 565.50,445.00 566.50,435.00 567.50,431.25 568.50,435.00 569.50,438.75 570.50,433.75 571.50,432.50 572.50,436.25 573.50,437.50 574.50,445.00 575.25,457.50 576.25,460.00 577.00,467.50 577.75,475.00 578.50,485.00 579.25,493.75 580.00,495.00 580.75,490.00 581.50,475.00 582.25,455.00 583.00,435.00 583.75,450.00 584.50,445.00 585.25,437.50 585.75,428.75 586.25,475.00 586.50,508.75 586.75,475.00 587.00,448.75 588.00,451.25 589.00,453.75 590.00,460.00 590.75,475.00 591.75,490.00 592.75,502.50 593.75,512.50 594.25,515.00 594.25,515.00 595.25,522.50 596.25,532.50 597.25,540.00 598.25,545.00 599.25,550.00 600.00,554.50 600.75,553.75 601.50,546.25 602.50,536.25 603.50,528.75 604.50,522.50 605.50,516.25 605.75,515.00 605.75,515.00 607.00,510.00 608.00,500.00 608.75,480.00 609.50,495.00 610.00,482.50 611.00,475.00 612.00,450.00 613.00,425.00 614.00,412.50 615.00,413.75 615.75,393.75 616.50,407.50 617.25,416.25 618.25,417.50 619.25,432.50 620.25,450.00 621.25,460.00 622.00,457.50 622.75,467.50 623.75,475.00 624.75,482.50 625.75,485.00 626.75,486.25 627.75,490.00 628.75,485.00 629.75,491.25 630.50,502.00 631.50,495.00 632.50,490.00 633.50,485.00 634.50,488.75 635.50,490.00 636.50,491.25 637.50,492.50 638.50,493.75 639.50,490.00 640.50,486.25 641.50,470.00 642.50,458.75 643.25,445.00 644.00,425.00 644.75,411.25 645.50,406.25 646.25,422.50 647.00,412.50 648.00,417.50 649.00,425.00 650.00,430.00 651.00,433.75 652.00,435.00 652.75,443.75 653.75,448.75 655.00,452.50 656.00,455.00 657.00,457.50 658.00,461.25 659.00,465.00 660.00,468.75 661.00,472.50 662.00,475.00 663.00,480.00 664.00,490.00 665.00,497.50 666.00,505.00 666.75,513.75 667.50,517.00 668.25,512.50 669.25,511.25 670.00,507.50 671.00,490.00 672.00,470.00 673.00,445.00 673.75,425.00 674.50,421.25 675.25,432.50 676.00,415.00 677.00,417.50 678.00,406.25 678.75,412.50 679.50,432.50 680.00,431.25 680.00,422.50 680.75,437.50 681.50,442.50 682.25,450.00 683.00,450.00 683.75,457.50 684.50,461.25 685.25,470.00 686.00,482.50 686.50,471.25 687.00,485.00 687.75,500.00 688.50,515.00 688.50,515.00 689.50,530.00 690.50,542.50 691.50,552.50 692.50,561.25 693.25,564.50 694.00,565.50 695.00,570.00 696.00,575.00 696.75,578.75 697.50,579.50 698.50,578.75 699.25,572.50 700.00,565.00 700.75,552.50 701.50,532.50 702.00,515.00 702.00,515.00 702.75,490.00 703.50,462.50 704.25,437.50 705.00,422.50 706.00,415.00 707.00,413.00 707.75,412.50 708.50,422.50 709.50,427.50 710.50,435.00 711.50,442.50 712.50,450.00 713.50,460.00 714.25,475.00 715.00,490.00 716.00,495.00 717.00,501.25 717.75,510.00 718.25,515.00 718.25,515.00 719.00,527.50 720.00,542.50 721.00,544.50 721.75,548.00 722.50,540.00 723.25,535.75 724.00,537.50 724.75,543.75 725.75,546.25 726.75,548.00 727.75,542.50 728.75,538.00 729.75,534.50 730.75,530.50 731.25,522.50 731.50,515.00 731.50,515.00 732.50,500.00 733.50,485.00 734.50,470.00 735.50,455.00 736.50,442.50 737.25,435.00 738.00,427.50 738.75,433.75 739.50,432.50 740.25,450.00 741.00,470.00 741.75,490.00 742.50,505.00 743.25,515.00 743.25,515.00 744.00,530.00 744.75,543.75 745.25,546.25 746.00,537.50 747.00,530.00 748.00,526.25 749.00,525.00 750.00,524.50 751.00,526.25 752.00,528.75 753.00,535.00 754.00,545.00 755.00,557.50 756.00,570.00 756.75,578.75 757.50,579.50 758.25,570.00 758.75,567.00 759.50,575.00 760.25,585.00 760.75,587.50 761.25,575.00 761.75,555.00 762.25,532.50 762.75,515.00 762.75,515.00 763.25,495.00 763.75,475.00 764.25,455.00 764.75,435.00 765.25,417.50 765.75,407.00 766.25,404.50 767.00,408.00 767.75,402.50 768.50,405.00 769.50,410.00 770.50,422.50 771.50,435.00 772.50,447.50 773.50,457.50 774.50,465.00 775.50,472.50 776.50,480.00 777.25,490.00 778.00,502.50 778.75,515.00 778.75,515.00 779.50,516.25 780.25,519.50 781.00,517.50 781.75,525.00 782.50,526.25 783.25,530.00 784.00,535.00 784.75,542.00 785.50,544.25 786.25,537.50 787.00,525.00 787.50,515.50 787.50,515.00 788.00,510.00 789.00,500.00 790.00,497.50 791.00,490.00 792.00,475.00 793.00,455.00 794.00,432.50 794.75,410.00 795.50,390.00 796.25,375.00 797.00,370.50 797.75,375.00 798.50,380.00 799.50,383.75 800.50,387.50 801.50,397.50 802.50,402.50 803.50,401.25 804.50,410.00 805.50,412.50 806.50,416.25 807.50,415.00 808.25,430.00 809.00,413.75 809.75,415.00 810.50,422.50 811.50,427.50 812.50,431.25 813.50,431.25 814.50,435.00 815.50,439.25 816.50,435.00 817.50,431.25 818.50,436.25 819.50,425.00 820.50,415.00 821.50,407.50 822.50,397.50 823.50,385.00 824.50,372.50 825.50,361.25 826.50,360.00 827.25,350.00 827.25,350.00 827.75,348.75 828.25,350.00 828.25,350.00 829.00,355.00 830.00,357.50 831.00,362.50 832.00,370.00 833.00,377.50 834.00,385.00 835.00,391.25 836.00,396.25 837.00,398.75 838.00,397.50 839.00,401.25 840.00,405.00 841.00,406.25 842.00,410.00 843.00,415.00 844.00,420.00 845.00,422.50 846.00,423.75 847.00,425.00 848.00,423.75 849.00,422.50 850.00,417.50 851.00,410.00 852.00,400.00 853.00,387.50 853.75,381.25 854.50,380.00 855.50,381.25 856.25,378.75 857.00,386.25 857.75,377.50 858.50,370.50 859.00,382.50 859.75,400.00 860.50,416.25 861.50,411.25 862.50,408.75 863.50,408.75 864.50,411.25 865.50,413.75 866.50,417.50 867.50,421.25 868.50,422.50 869.50,427.50 870.50,435.00 871.25,445.00 872.00,460.00 872.75,475.00 873.50,492.50 874.25,506.25 875.00,511.25 875.75,515.00 875.75,515.00 876.50,522.00 877.00,526.25 877.50,529.50 878.00,523.75 878.50,515.50 878.50,515.00 879.25,505.00 880.00,490.00 880.50,475.00 881.25,445.00 882.00,415.00 882.75,387.50 883.50,370.00 884.25,357.50 884.75,350.00 884.75,350.00 885.25,335.00 885.75,330.50 886.25,345.00 887.00,348.75 887.75,350.00 887.75,350.00 888.50,355.00 889.50,360.00 890.50,370.00 891.50,382.50 892.50,395.00 893.50,403.75 894.50,407.50 895.50,420.00 896.50,432.50 897.50,436.25 898.50,440.00 899.50,445.00 900.50,450.00 901.50,455.00 902.50,457.50 903.50,462.50 904.50,466.25 905.50,467.50 906.50,468.00 907.50,467.50 908.50,465.00 909.25,455.00 910.00,445.00 910.75,430.00 911.50,412.50 912.25,395.00 913.00,377.50 913.75,357.50 914.00,350.00 914.00,350.00 914.75,341.25 915.50,341.25 916.25,335.00 916.75,333.00 917.50,337.50 918.25,336.25 919.00,341.25 919.75,345.00 920.50,350.00 920.50,350.00 921.25,362.50 922.00,375.00 923.00,387.50 924.00,392.50 925.00,400.00 926.00,406.25 927.00,412.50 928.00,417.50 929.00,425.00 930.00,435.00 930.75,440.50 931.50,436.25 932.50,437.50 933.50,431.25 934.50,435.00 935.50,436.25 936.50,438.75 937.50,441.25 938.50,438.75 939.50,436.25 940.50,425.00 941.50,412.50 942.25,402.50 943.00,401.25 944.00,397.50 945.00,392.50 946.00,382.50 947.00,367.50 947.75,355.00 948.25,350.00 948.25,350.00 948.75,348.75 949.00,350.00 949.00,350.00 949.50,357.50 950.00,366.25 950.50,352.50 951.00,350.00 951.00,350.00 952.00,345.00 953.00,341.25 953.75,337.00 954.50,342.50 955.25,343.75 956.25,341.25 957.00,345.00 958.00,347.50 959.00,350.00 959.00,350.00 960.00,355.00 961.00,362.50 962.00,367.50 963.00,368.75 964.00,371.25 965.00,375.00 966.00,382.50 967.00,392.50 968.00,403.75 968.75,410.00 969.50,400.00 970.25,382.50 971.00,365.00 971.75,350.00 971.75,350.00 972.00,332.50 972.75,310.00 973.50,305.00 974.25,295.00 975.00,290.00 975.50,286.25 976.25,297.50 977.00,307.50 977.75,295.00 978.50,310.00 979.25,315.00 980.00,320.00 980.00,321.25 981.00,327.50 982.00,326.25 983.00,332.50 984.00,335.00 985.00,340.00 986.00,345.00 987.00,347.50 988.00,350.00 988.00,350.00 988.75,357.50 989.50,360.00 990.25,355.00 991.00,361.25 991.75,357.50 992.50,370.00 993.25,380.00 994.00,387.50 994.75,392.50 995.50,389.50 996.50,388.75 997.50,389.50 998.50,388.75 999.25,382.50 1000.00,375.00 1001.00,365.00 1002.00,355.00 1002.50,350.00 1002.50,350.00 1003.00,335.00 1003.50,315.00 1004.00,311.25 1004.50,317.50 1005.00,302.50 1005.75,290.00 1006.50,281.25 1007.25,278.00 1007.75,279.50 1008.00,310.00 1008.25,350.00 1008.30,350.00 1008.70,450.00 1009.20,484.00 1010.30,505.00 1011.50,525.50 1012.30,518.50 1013.00,523.50 1013.60,514.00 1014.80,499.50 1015.60,499.50 1016.50,503.00 1017.50,506.50 1018.30,501.50" fill="none" stroke="#023C4B" stroke-width="1.42" stroke-linejoin="round" stroke-linecap="butt"/>
<text transform="translate(36.6,107.0) scale(1,1.1)" font-size="11.73" fill="#4D4D4D" text-anchor="end" textLength="7" lengthAdjust="spacing">2</text>
<text transform="translate(36.6,224.25) scale(1,1.1)" font-size="11.73" fill="#4D4D4D" text-anchor="end" textLength="7" lengthAdjust="spacing">1</text>
<text transform="translate(36.6,341.5) scale(1,1.1)" font-size="11.73" fill="#4D4D4D" text-anchor="end" textLength="7" lengthAdjust="spacing">0</text>
<text transform="translate(36.6,458.75) scale(1,1.1)" font-size="11.73" fill="#4D4D4D" text-anchor="end" textLength="11" lengthAdjust="spacing">-1</text>
<text transform="translate(36.6,576.0) scale(1,1.1)" font-size="11.73" fill="#4D4D4D" text-anchor="end" textLength="11" lengthAdjust="spacing">-2</text>
<text transform="translate(59.15,631.0) scale(1,1.1)" font-size="11.73" fill="#4D4D4D" text-anchor="middle" textLength="37" lengthAdjust="spacing">Jun 30</text>
<text transform="translate(269.0,631.0) scale(1,1.1)" font-size="11.73" fill="#4D4D4D" text-anchor="middle" textLength="33" lengthAdjust="spacing">Jul 07</text>
<text transform="translate(478.84999999999997,631.0) scale(1,1.1)" font-size="11.73" fill="#4D4D4D" text-anchor="middle" textLength="33" lengthAdjust="spacing">Jul 14</text>
<text transform="translate(688.6999999999999,631.0) scale(1,1.1)" font-size="11.73" fill="#4D4D4D" text-anchor="middle" textLength="33" lengthAdjust="spacing">Jul 21</text>
<text transform="translate(898.55,631.0) scale(1,1.1)" font-size="11.73" fill="#4D4D4D" text-anchor="middle" textLength="33" lengthAdjust="spacing">Jul 28</text>
<text transform="translate(554.0,648.8)" font-size="14.67" fill="#000" text-anchor="middle" textLength="72" lengthAdjust="spacing">Time [30m]</text>
<text transform="translate(17.8,310.9) rotate(-90)" font-size="14.67" fill="#000" text-anchor="middle" textLength="34" lengthAdjust="spacing">value</text>
<text transform="translate(1087.1,289.75)" font-size="14.67" fill="#000" textLength="50" lengthAdjust="spacing">variable</text>
<line x1="1089.1" x2="1107.9" y1="311.2" y2="311.2" stroke="#04C3CF" stroke-width="1.42"/>
<line x1="1089.1" x2="1107.9" y1="334.2" y2="334.2" stroke="#023C4B" stroke-width="1.42"/>
<text transform="translate(1116.8,316.0) scale(1,1.1)" font-size="11.73" fill="#000" textLength="45.5" lengthAdjust="spacing">Demand</text>
<text transform="translate(1116.8,338.8) scale(1,1.1)" font-size="11.73" fill="#000" textLength="68.5" lengthAdjust="spacing">Temperature</text>
</svg></body></html>
